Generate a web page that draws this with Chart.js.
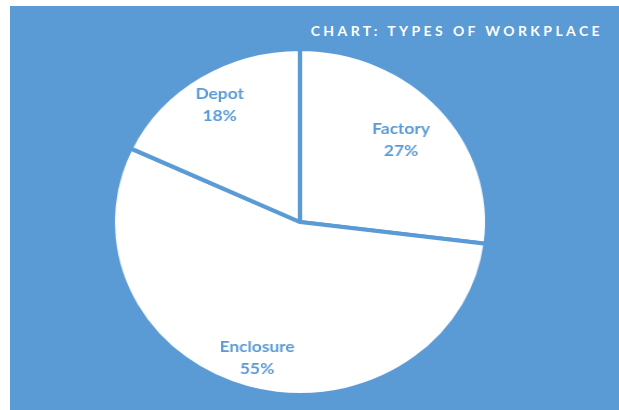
<!DOCTYPE html>
<html>
<head>
<meta charset="utf-8">
<script src="https://cdn.jsdelivr.net/npm/chart.js@4"></script>
<style>
  body { margin: 0; background: #fff; }
  #box {
    position: absolute; left: 10px; top: 6px;
    width: 609px; height: 404px;
    background: #5b9bd5; overflow: hidden;
  }
  #title {
    position: absolute; right: 16px; top: 16px;
    color: #fff; font: bold 14px Lato, sans-serif;
    letter-spacing: 3.4px; white-space: nowrap;
  }
  /* the reference pie is a little wider than tall */
  #wrap {
    position: absolute; left: 0; top: 0;
    width: 563px; height: 404px;
    transform: scaleX(1.082); transform-origin: 0 0;
  }
</style>
</head>
<body>
<div id="box">
  <div id="title">CHART: TYPES OF WORKPLACE</div>
  <div id="wrap"><canvas id="myChart"></canvas></div>
</div>
<script>
const categories = ['Factory', 'Enclosure', 'Depot'];
const shares = [27, 55, 18];

const blue = '#5b9bd5';

// draws "name / NN%" inside each slice
const sliceLabels = {
  id: 'sliceLabels',
  afterDatasetsDraw(chart, args, opts) {
    const ctx = chart.ctx;
    const meta = chart.getDatasetMeta(0);
    ctx.save();
    ctx.fillStyle = blue;
    ctx.font = 'bold 16px Lato, sans-serif';
    ctx.textAlign = 'center';
    ctx.textBaseline = 'middle';
    meta.data.forEach((arc, i) => {
      const mid = (arc.startAngle + arc.endAngle) / 2;
      const r = arc.outerRadius * opts.dist[i];
      const x = arc.x + Math.cos(mid) * r;
      const y = arc.y + Math.sin(mid) * r;
      ctx.fillText(categories[i], x, y - 11);
      ctx.fillText(shares[i] + '%', x, y + 11);
    });
    ctx.restore();
  },
};

const ctx = document.getElementById('myChart');

new Chart(ctx, {
  type: 'pie',
  data: {
    labels: categories,
    datasets: [
      {
        data: shares,
        backgroundColor: '#ffffff',
        borderColor: blue,
        borderWidth: 4,
      },
    ],
  },
  options: {
    responsive: true,
    maintainAspectRatio: false,
    animation: false,
    radius: 173,
    layout: { padding: { top: 43, bottom: 15, left: 0, right: 27 } },
    plugins: {
      legend: { display: false },
      tooltip: { enabled: false },
      sliceLabels: { dist: [0.72, 0.82, 0.8] },
    },
  },
  plugins: [sliceLabels],
});
</script>
</body>
</html>
